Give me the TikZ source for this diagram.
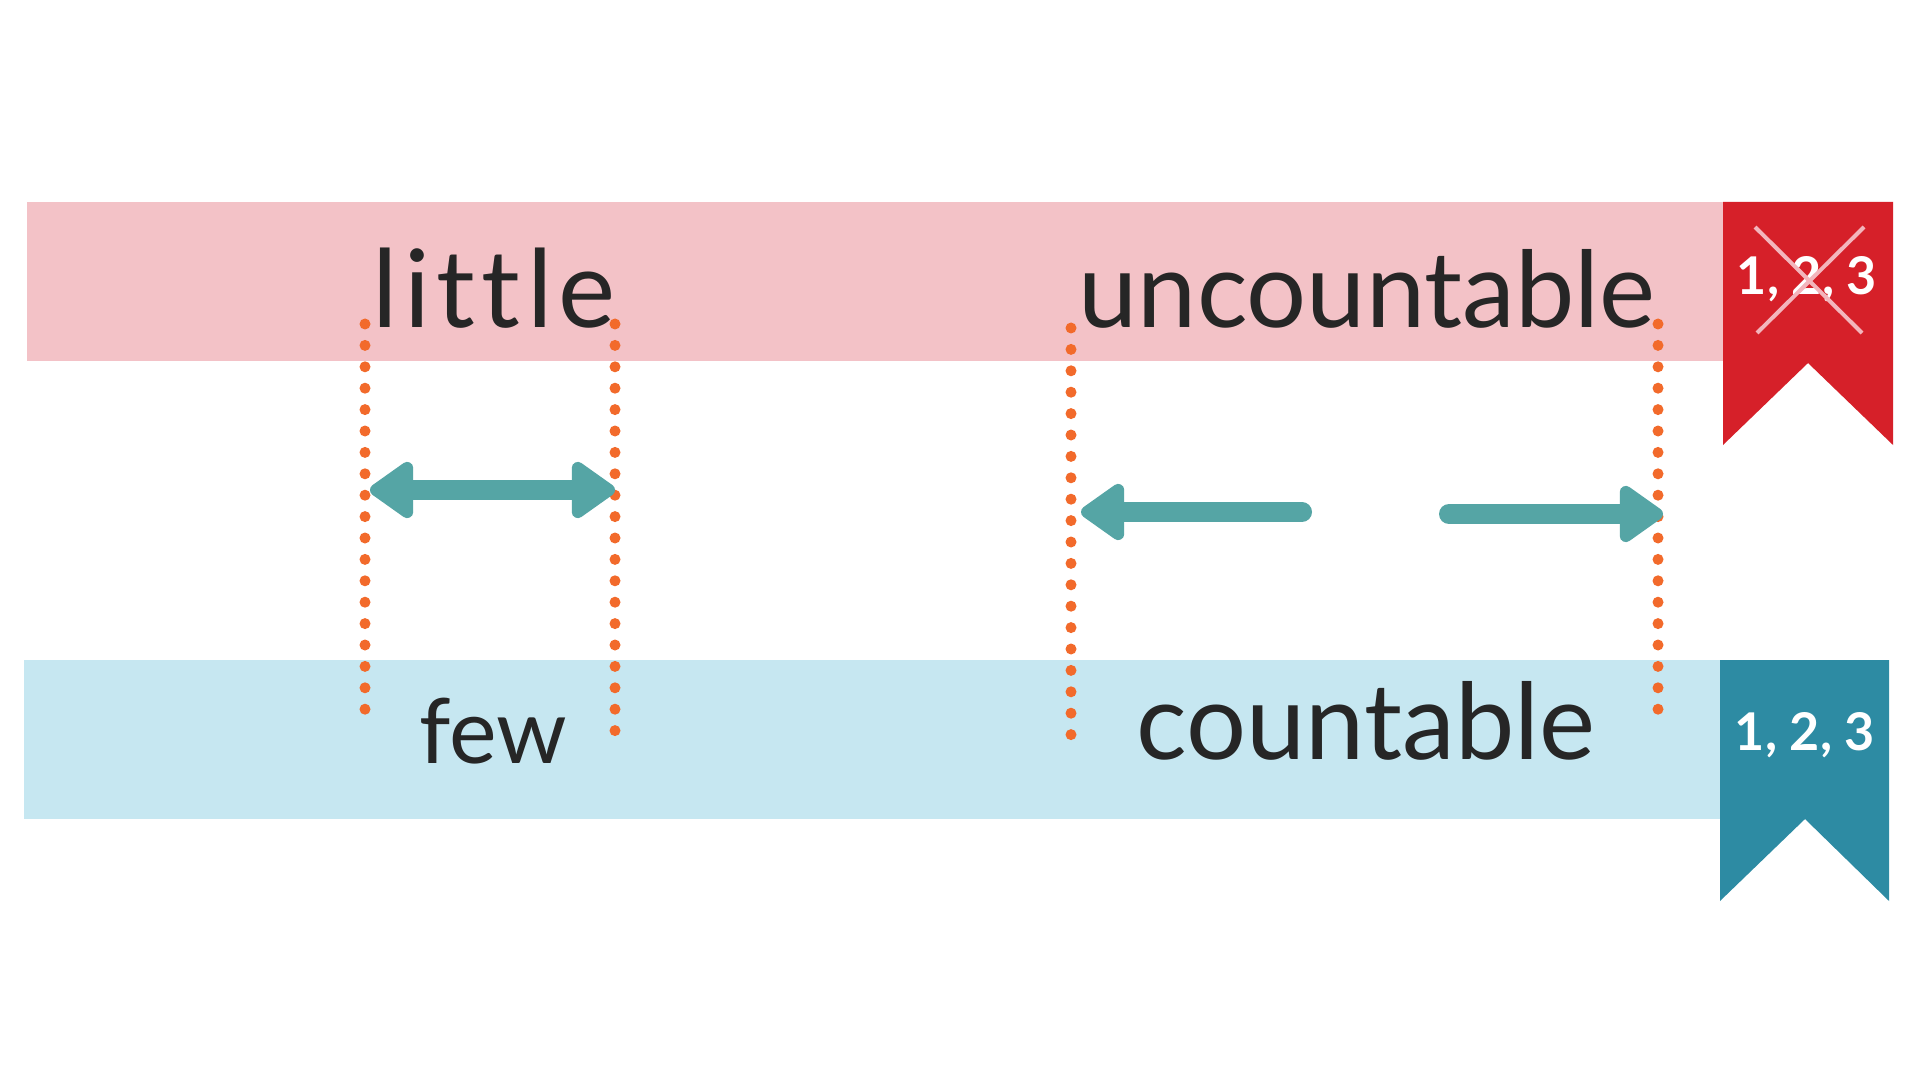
\documentclass[tikz,border=0pt]{standalone}
\usepackage{fontspec}
\setmainfont{Lato}
\newfontfamily\spacedlato[LetterSpace=6,Ligatures=NoCommon]{Lato}
\usetikzlibrary{arrows.meta}
\definecolor{pinkband}{HTML}{F3C2C7}
\definecolor{blueband}{HTML}{C6E7F1}
\definecolor{redbadge}{HTML}{D62029}
\definecolor{bluebadge}{HTML}{2D8BA3}
\definecolor{teal}{HTML}{55A5A5}
\definecolor{dotor}{HTML}{F26A2B}
\definecolor{crossc}{HTML}{F3B5BC}
\tikzset{
 word/.style={inner sep=0pt,anchor=base,text=black!85},
 badgetxt/.style={inner sep=0pt,text=white,font=\fontsize{26}{30}\selectfont\bfseries},
 dots/.style={dotor,line width=5.5pt,line cap=round,dash pattern=on 0pt off 10.7pt},
 arr/.style={teal,line width=10pt,line cap=round,-{Triangle[length=24pt,width=32pt,round]}},
 darr/.style={teal,line width=10pt,{Triangle[length=24pt,width=32pt,round]}-{Triangle[length=24pt,width=32pt,round]}},
}
\begin{document}
\begin{tikzpicture}[x=0.5pt,y=-0.5pt]
\useasboundingbox[fill=white] (0,0) rectangle (1920,1080);
\fill[pinkband] (27,202) rectangle (1723,361);
\fill[blueband] (24,660) rectangle (1720,819);
\fill[redbadge] (1723,202) -- (1893,202) -- (1893,445) -- (1808,363) -- (1723,445) -- cycle;
\fill[bluebadge] (1720,660) -- (1889,660) -- (1889,901) -- (1805,819) -- (1720,901) -- cycle;
\node[word,font=\fontsize{54}{60}\spacedlato] (little) at (494,328) {little};
\node[word,font=\fontsize{53}{60}\selectfont] (unc) at (1367,328) {uncountable};
\node[word,font=\fontsize{45}{50}\selectfont] (few) at (493,763) {few};
\node[word,font=\fontsize{53}{60}\selectfont] (cnt) at (1366,759) {countable};
\node[badgetxt] (b1) at (1807,279) {1, 2, 3};
\node[badgetxt] (b2) at (1805,735) {1, 2, 3};
\coordinate (c1) at (1755,227); \coordinate (c2) at (1862,333);
\coordinate (c3) at (1864,227); \coordinate (c4) at (1757,333);
\draw[crossc,line width=2pt] (c1) -- (c2) (c3) -- (c4);
\coordinate (d1t) at (365,324); \coordinate (d1b) at (365,730);
\coordinate (d2t) at (615,324); \coordinate (d2b) at (615,740);
\coordinate (d3t) at (1071,328); \coordinate (d3b) at (1071,735);
\coordinate (d4t) at (1658,324); \coordinate (d4b) at (1658,730);
\foreach \a/\b in {d1t/d1b,d2t/d2b,d3t/d3b,d4t/d4b} \draw[dots] (\a) -- (\b);
\coordinate (a1) at (370,490); \coordinate (a2) at (615,490);
\draw[darr] (a1) -- (a2);
\coordinate (l1) at (1302,512); \coordinate (l2) at (1081,512);
\draw[arr] (l1) -- (l2);
\coordinate (r1) at (1449,514); \coordinate (r2) at (1663,514);
\draw[arr] (r1) -- (r2);
\end{tikzpicture}
\end{document}
